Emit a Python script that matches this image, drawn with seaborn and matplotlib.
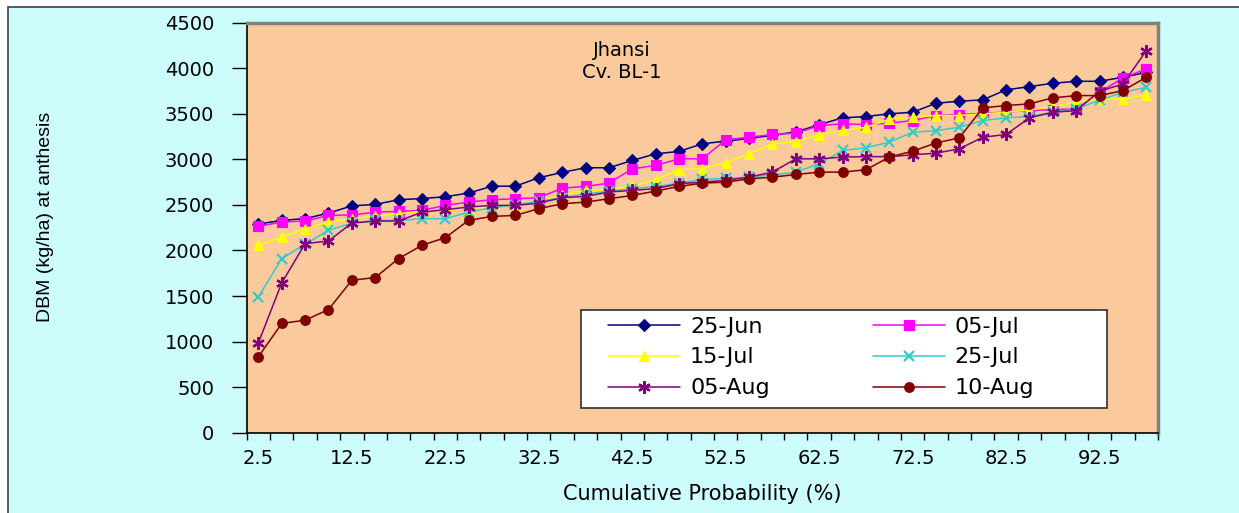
import numpy as np
import pandas as pd
import matplotlib
matplotlib.use("Agg")
import matplotlib.pyplot as plt
from matplotlib.patches import Rectangle
import seaborn as sns

# -----------------------------
# data
# -----------------------------
probability = [2.5 * (i + 1) for i in range(39)]
tick_labels = ["2.5", "12.5", "22.5", "32.5", "42.5", "52.5", "62.5", "72.5", "82.5", "92.5"]

jun25 = [2290, 2330, 2350, 2410, 2490, 2505, 2557, 2570, 2590, 2630,
         2706, 2706, 2798, 2857, 2908, 2908, 2988, 3061, 3087, 3171,
         3200, 3230, 3265, 3300, 3380, 3456, 3470, 3500, 3517, 3616,
         3638, 3653, 3763, 3799, 3835, 3857, 3857, 3901, 3955]
jul05 = [2265, 2312, 2323, 2385, 2390, 2421, 2429, 2440, 2495, 2531,
         2557, 2568, 2579, 2684, 2703, 2739, 2897, 2933, 3006, 3006,
         3215, 3243, 3273, 3287, 3371, 3390, 3382, 3397, 3426, 3481,
         3492, 3505, 3520, 3536, 3545, 3554, 3736, 3894, 3993]
jul15 = [2057, 2148, 2239, 2312, 2350, 2380, 2403, 2430, 2440, 2460,
         2480, 2500, 2540, 2610, 2660, 2667, 2703, 2776, 2886, 2897,
         2965, 3061, 3171, 3195, 3270, 3320, 3350, 3440, 3460, 3481,
         3481, 3500, 3517, 3543, 3580, 3627, 3664, 3664, 3711]
jul25 = [1490, 1911, 2068, 2221, 2301, 2330, 2330, 2349, 2349, 2420,
         2470, 2500, 2540, 2580, 2620, 2650, 2680, 2700, 2740, 2780,
         2790, 2805, 2830, 2860, 2952, 3098, 3127, 3189, 3298, 3315,
         3353, 3426, 3456, 3470, 3517, 3554, 3650, 3736, 3791]
aug05 = [986, 1644, 2075, 2104, 2301, 2323, 2323, 2421, 2448, 2477,
         2495, 2495, 2520, 2579, 2594, 2641, 2660, 2678, 2733, 2750,
         2769, 2805, 2860, 3006, 3006, 3025, 3030, 3030, 3050, 3068,
         3116, 3243, 3273, 3456, 3517, 3536, 3747, 3828, 4193]
aug10 = [833, 1199, 1235, 1352, 1673, 1703, 1911, 2057, 2141, 2331,
         2374, 2385, 2459, 2513, 2531, 2568, 2604, 2652, 2703, 2739,
         2750, 2786, 2805, 2834, 2860, 2860, 2886, 3025, 3090, 3180,
         3236, 3565, 3591, 3609, 3675, 3700, 3700, 3755, 3901]

series_names = ["25-Jun", "05-Jul", "15-Jul", "25-Jul", "05-Aug", "10-Aug"]
series_values = [jun25, jul05, jul15, jul25, aug05, aug10]

# styling per series (Excel classic look)
colors = ["#000080", "#FF00FF", "#FFFF00", "#33CCCC", "#800080", "#800000"]
markers = ["D", "s", "^", "x", (6, 2, 0), "o"]
msizes = [6.5, 6.5, 7.5, 7.5, 9, 7]

rows = []
for name, vals in zip(series_names, series_values):
    for i, (p, v) in enumerate(zip(probability, vals)):
        rows.append({"series": name, "pos": i, "prob": p, "dbm": v})
df = pd.DataFrame(rows)

# -----------------------------
# figure
# -----------------------------
sns.set_style("white")
plt.rcParams["font.family"] = ["DejaVu Sans"]
for k in ["text.color", "axes.labelcolor", "xtick.color", "ytick.color"]:
    plt.rcParams[k] = "black"

W, H = 1239, 513
fig = plt.figure(figsize=(W / 100, H / 100), dpi=100, facecolor="white")
fig.patches.append(Rectangle((8 / W, -0.1), 1.2, (1 - 7 / H) + 0.1,
                             transform=fig.transFigure, facecolor="#CCFCFC",
                             edgecolor="#404040", linewidth=1.2, zorder=-10))

ax = fig.add_axes([246.7 / W, 1 - 432.7 / H, 911.3 / W, 410 / H])
ax.set_facecolor("#FACA9C")

for name, col, mk, ms in zip(series_names, colors, markers, msizes):
    sub = df[df["series"] == name]
    filled = mk not in ("x", (6, 2, 0))
    sns.lineplot(data=sub, x="pos", y="dbm", ax=ax, color=col, linewidth=1.1,
                 marker=mk, markersize=ms,
                 markeredgecolor=col, markeredgewidth=0.8 if filled else 1.6,
                 label=name, legend=False)

ax.set_xlim(-0.5, 38.5)
ax.set_ylim(0, 4500)
ax.set_yticks(np.arange(0, 4501, 500))
ax.set_xticks(np.arange(0, 39, 4))
ax.set_xticklabels(tick_labels)
ax.set_xticks(np.arange(-0.5, 39, 1), minor=True)
# seaborn's white style hides tick marks, switch them back on
ax.tick_params(axis="both", which="both", left=True, bottom=True)
ax.tick_params(axis="x", which="major", length=0, pad=12, labelsize=14)
ax.tick_params(axis="x", which="minor", length=5, width=1, direction="out", color="black")
ax.tick_params(axis="y", which="major", length=10.5, width=1, direction="out", pad=13,
               labelsize=14, color="black")

for s in ["left", "bottom"]:
    ax.spines[s].set_color("black")
    ax.spines[s].set_linewidth(1.2)
for s in ["right", "top"]:
    ax.spines[s].set_color("#808080")
    ax.spines[s].set_linewidth(2.5)

ax.set_xlabel("Cumulative Probability (%)", fontsize=15, labelpad=11)
ax.set_ylabel("DBM (kg/ha) at anthesis", fontsize=14,
              family=["Liberation Sans Narrow", "Liberation Sans"])
ax.yaxis.set_label_coords(-0.212, 0.526)

ax.text(0.412, 0.955, "Jhansi\nCv. BL-1", transform=ax.transAxes,
        ha="center", va="top", fontsize=14, linespacing=1.2)

# legend box drawn separately so it spans the same area as the original
ax.add_patch(Rectangle((0.367, 0.06), 0.577, 0.239, transform=ax.transAxes,
                       facecolor="white", edgecolor="#303030", linewidth=1.2,
                       zorder=5))

# row-wise order like the original: reorder for column filling
handles, labels = ax.get_legend_handles_labels()
order = [0, 2, 4, 1, 3, 5]
leg = ax.legend([handles[i] for i in order], [labels[i] for i in order],
                ncol=2, loc="upper left", bbox_to_anchor=(0.3965, 0.2834),
                fontsize=16, frameon=False,
                handlelength=3.24, handletextpad=0.45, labelspacing=0.49,
                columnspacing=4.64, borderpad=0, borderaxespad=0)
leg.set_zorder(6)

fig.savefig("out.png", dpi=100, facecolor=fig.get_facecolor())
